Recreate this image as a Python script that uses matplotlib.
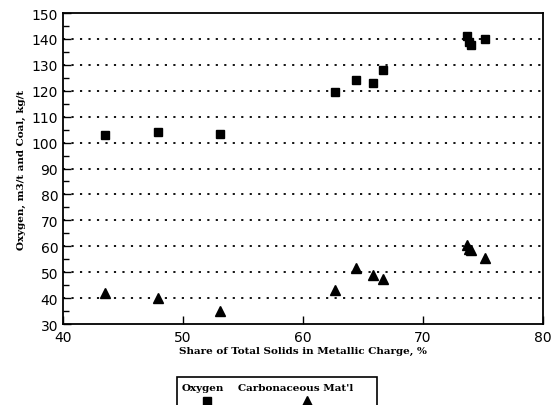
import matplotlib
matplotlib.use("Agg")
import matplotlib.pyplot as plt
from matplotlib.lines import Line2D
from matplotlib.patches import Rectangle
from matplotlib.ticker import MultipleLocator, FixedLocator

# share of total solids in metallic charge, %
share = [43.5, 47.9, 53.1, 62.7, 64.4, 65.8, 66.7, 73.7, 73.8, 74.0, 75.2]
# oxygen, m3/t
oxygen = [103, 104, 103.5, 119.5, 124, 123, 128, 141, 139, 137.5, 140]
# carbonaceous material, kg/t
carbon = [42, 40, 35, 43, 51.5, 49, 47.5, 60.5, 59, 58.5, 55.5]

xticks = [40, 50, 60, 70, 80]
yticks = list(range(30, 151, 10))

fig = plt.figure(figsize=(5.53, 4.06), dpi=100)
ax = fig.add_axes([0.114, 0.1995, 0.868, 0.766])

# dotted horizontal grid
for y in yticks[1:-1]:
    ax.axhline(y, color="black", lw=1.3, ls=(0, (1.2, 3.5)), zorder=1)

ax.plot(share, oxygen, ls="none", marker="s", ms=6, color="black", zorder=3)
ax.plot(share, carbon, ls="none", marker="^", ms=7, color="black", zorder=3)

ax.set_xlim(40, 80)
ax.set_ylim(30, 150)
ax.xaxis.set_major_locator(FixedLocator(xticks))
ax.set_yticks(yticks)
ax.yaxis.set_minor_locator(MultipleLocator(5))
ax.tick_params(axis="both", which="both", direction="in", labelsize=10)
ax.tick_params(axis="y", which="major", length=6, width=1)
ax.tick_params(axis="y", which="minor", length=4, width=1)
ax.tick_params(axis="x", which="major", length=6, width=1, pad=4)
for sp in ax.spines.values():
    sp.set_linewidth(1.3)

ax.set_xlabel("Share of Total Solids in Metallic Charge, %", fontsize=7.5,
              fontweight="bold", family="DejaVu Serif", labelpad=2)
ax.set_ylabel("Oxygen, m3/t and Coal, kg/t", fontsize=7.5,
              fontweight="bold", family="DejaVu Serif", labelpad=4)

# legend box below the chart, markers under the labels
fig.add_artist(Rectangle((177 / 553, -0.05), 200 / 553, 0.05 + 28 / 406,
                         transform=fig.transFigure, fill=False, lw=1.2,
                         edgecolor="black"))
fig.text(182 / 553, 1 - 389 / 406, "Oxygen", fontsize=7.5, fontweight="bold",
         family="DejaVu Serif", va="center")
fig.text(238 / 553, 1 - 389 / 406, "Carbonaceous Mat'l", fontsize=7.5,
         fontweight="bold", family="DejaVu Serif", va="center")
fig.add_artist(Line2D([207 / 553], [1 - 402 / 406], marker="s", ms=6,
                      color="black", transform=fig.transFigure))
fig.add_artist(Line2D([307 / 553], [1 - 402 / 406], marker="^", ms=7,
                      color="black", transform=fig.transFigure))

fig.savefig("out.png", dpi=100)
